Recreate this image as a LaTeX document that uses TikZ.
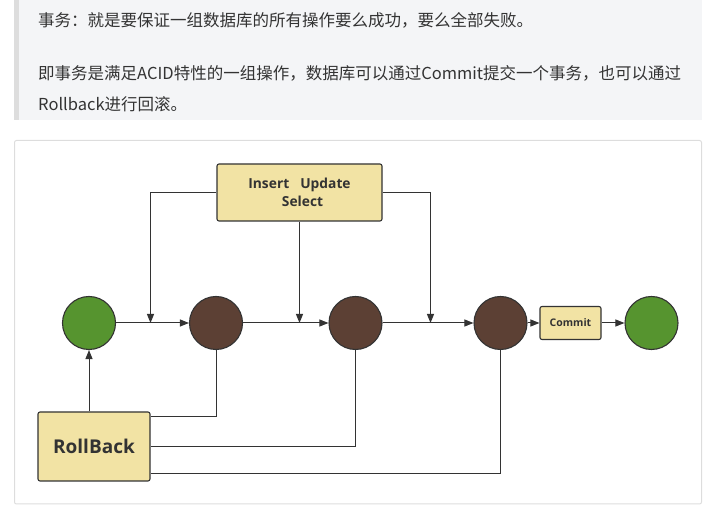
\documentclass[tikz,border=0pt]{standalone}
\usepackage{fontspec}
\setmainfont{Open Sans}
\newfontfamily\cjk{Noto Sans CJK SC}
\usetikzlibrary{arrows.meta}
\definecolor{ink}{HTML}{333333}
\definecolor{quotebg}{HTML}{F4F5F7}
\definecolor{quotebar}{HTML}{DDDDDD}
\definecolor{cardline}{HTML}{DDDDDD}
\definecolor{stategreen}{HTML}{56942F}
\definecolor{statebrown}{HTML}{5C4034}
\definecolor{boxfill}{HTML}{F2E3A4}
\tikzset{
  state/.style={circle, draw=ink, line width=1.1pt, minimum size=53pt, inner sep=0pt},
  green/.style={state, fill=stategreen},
  brown/.style={state, fill=statebrown},
  opbox/.style={draw=ink, fill=boxfill, line width=1.1pt, rounded corners=2pt,
    text=ink, font=\bfseries, inner sep=0pt},
  link/.style={draw=ink, line width=1pt},
  arr/.style={link, -{Triangle[length=9pt,width=7pt]}},
  txt/.style={text=ink, anchor=west, inner sep=0pt, font=\cjk\fontsize{16.5}{20}\selectfont},
}

\begin{document}
\begin{tikzpicture}[x=1pt, y=-1pt]
  \useasboundingbox (0,0) rectangle (718,518);

  % quote block
  \fill[quotebg] (14,0) rectangle (702,120);
  \fill[quotebar] (14,0) rectangle (19,120);
  \node[txt] (l1) at (38,20) {事务：就是要保证一组数据库的所有操作要么成功，要么全部失败。};
  \node[txt] (l2) at (38,73) {即事务是满足ACID特性的一组操作，数据库可以通过Commit提交一个事务，也可以通过};
  \node[txt] (l3) at (38,104) {Rollback进行回滚。};

  % card
  \draw[cardline, line width=1pt, rounded corners=2pt] (14.5,140.5) rectangle (701.5,504);

  % states
  \node[green] (s0) at (89,323) {};
  \node[brown] (t1) at (216,323) {};
  \node[brown] (t2) at (355.5,323) {};
  \node[brown] (t3) at (500.5,323) {};
  \node[green] (s1) at (651.5,323) {};

  % boxes
  \node[opbox, minimum width=165pt, minimum height=57pt, align=center,
    font=\bfseries\fontsize{13.8}{17.5}\selectfont] (ops) at (299.5,192.5)
    {Insert\hspace{11pt}Update\\\hspace{6pt}Select};
  \node[opbox, minimum width=61pt, minimum height=33pt,
    font=\bfseries\fontsize{10.5}{12}\selectfont] (cmt) at (570.5,323) {Commit};
  \node[opbox, minimum width=112pt, minimum height=69pt,
    font=\bfseries\fontsize{19}{22}\selectfont] (rb) at (94,446.5) {RollBack};

  \coordinate (j1) at (150.5,323);
  \coordinate (j2) at (ops.south |- t1);
  \coordinate (j3) at (430.5,323);

  % main flow
  \draw[arr] (s0) -- (t1);
  \draw[arr] (t1) -- (t2);
  \draw[arr] (t2) -- (t3);
  \draw[arr] (t3) -- (cmt);
  \draw[arr] (cmt) -- (s1);

  % operations
  \draw[arr] (ops.west) -| (j1);
  \draw[arr] (ops.south) -- (j2);
  \draw[arr] (ops.east) -| (j3);

  % rollback
  \draw[arr] (rb.north -| s0) -- (s0);
  \draw[link] (t1.south) |- ([yshift=-5pt]rb.north east);
  \draw[link] (t2.south) |- (rb.east);
  \draw[link] (t3.south) |- ([yshift=8pt]rb.south east);
\end{tikzpicture}
\end{document}
